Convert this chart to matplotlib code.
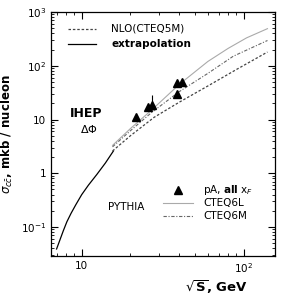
import matplotlib
matplotlib.use('Agg')
import matplotlib.pyplot as plt
import numpy as np

# data
extrap_s = [7.0, 7.3, 7.7, 8.1, 8.6, 9.2, 10.0, 11.0, 12.4, 14.0, 15.7]
extrap_sig = [0.039, 0.055, 0.085, 0.125, 0.18, 0.26, 0.40, 0.60, 0.95, 1.55, 2.6]

nlo_s = [15.5, 20, 28, 40, 60, 90, 140]
nlo_sig = [2.6, 5.0, 11, 21, 42, 85, 180]

cteq6l_s = [15.5, 20, 27, 40, 60, 80, 104, 140]
cteq6l_sig = [3.3, 6.8, 15, 45, 120, 210, 330, 490]

cteq6m_s = [15.5, 20, 27, 40, 60, 86, 140]
cteq6m_sig = [3.1, 6.2, 13.5, 33, 72, 150, 295]

pa_s = [21.5, 25.8, 27.2, 38.8, 41.6, 38.6]
pa_sig = [11, 17, 18.5, 47, 50, 30]
pa_err_up = [0, 0, 9.5, 0, 0, 0]

fig = plt.figure(figsize=(2.83, 3.0), dpi=100)
ax = fig.add_axes([0.180, 0.147, 0.792, 0.813])

ax.plot(extrap_s, extrap_sig, color='black', lw=0.9)
ax.plot(nlo_s, nlo_sig, color='#444444', lw=0.9, ls=(0, (2, 1.5)))
ax.plot(cteq6l_s, cteq6l_sig, color='#aaaaaa', lw=0.8)
ax.plot(cteq6m_s, cteq6m_sig, color='#666666', lw=0.8, ls=(0, (3, 1.5, 1, 1.5)))
ax.errorbar(pa_s, pa_sig, yerr=[[0] * len(pa_err_up), pa_err_up], fmt='^',
            color='black', ms=6, elinewidth=0.8, capsize=0)

ax.set_xscale('log')
ax.set_yscale('log')
ax.set_xlim(6.46, 156)
ax.set_ylim(0.029, 1000)

ax.set_xticks([10, 100])
ax.set_xticklabels(['10', r'$10^{2}$'])
ax.set_yticks([0.1, 1, 10, 100, 1000])
ax.set_yticklabels([r'$10^{-1}$', '1', '10', r'$10^{2}$', r'$10^{3}$'])
ax.tick_params(which='both', direction='in', top=True, right=True, labelsize=7.5)
ax.tick_params(which='major', length=5)
ax.tick_params(which='minor', length=2.5)
for sp in ax.spines.values():
    sp.set_linewidth(0.9)

ax.set_ylabel(r'$\sigma_{c\bar{c}}$, mkb / nucleon', fontsize=8.5, fontweight='bold', labelpad=4)
ax.set_xlabel(r'$\sqrt{\mathbf{S}}$, GeV', fontsize=9.5, fontweight='bold', labelpad=6)
ax.xaxis.set_label_coords(0.74, -0.09)

# legend top-left
tr = ax.transAxes
ax.plot([0.075, 0.20], [0.932, 0.932], transform=tr, color='#444444', lw=0.9, ls=(0, (2, 1.5)))
ax.text(0.27, 0.932, 'NLO(CTEQ5M)', transform=tr, fontsize=7.5, va='center')
ax.plot([0.075, 0.20], [0.868, 0.868], transform=tr, color='black', lw=0.9)
ax.text(0.27, 0.868, 'extrapolation', transform=tr, fontsize=7.5, va='center', fontweight='bold')

ax.text(0.085, 0.585, 'IHEP', transform=tr, fontsize=9, fontweight='bold', va='center')
ax.text(0.13, 0.52, r'$\Delta\Phi$', transform=tr, fontsize=8, va='center')

# legend bottom-right
ax.plot([0.565], [0.27], 'k^', ms=6, transform=tr)
ax.text(0.68, 0.27, r'pA, $\mathbf{all}$ x$_F$', transform=tr, fontsize=7.5, va='center')
ax.text(0.255, 0.2, 'PYTHIA', transform=tr, fontsize=7.5, va='center')
ax.plot([0.5, 0.635], [0.218, 0.218], transform=tr, color='#aaaaaa', lw=0.8)
ax.text(0.68, 0.218, 'CTEQ6L', transform=tr, fontsize=7.5, va='center')
ax.plot([0.5, 0.635], [0.164, 0.164], transform=tr, color='#666666', lw=0.8, ls=(0, (3, 1.5, 1, 1.5)))
ax.text(0.68, 0.164, 'CTEQ6M', transform=tr, fontsize=7.5, va='center')

fig.savefig('out.png', dpi=100)
